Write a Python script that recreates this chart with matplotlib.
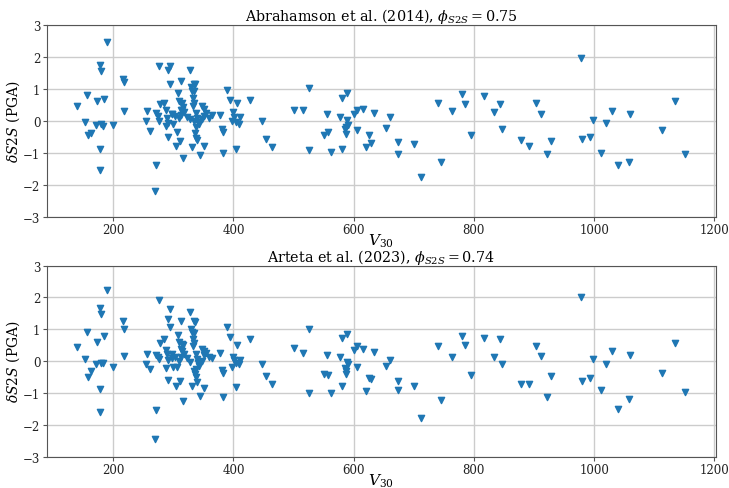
import matplotlib
matplotlib.use("Agg")
import matplotlib.pyplot as plt

# V30 of the sites (same sites in both panels)
v30 = [139.8, 152.5, 156.3, 157.5, 163, 170.8, 173.6, 178.6, 180.2, 185.2,
       180, 182.4, 178.6, 177.4, 189.5, 199.5, 217, 218, 218,
       253.8, 256, 261.5, 270.3, 270, 271.5, 274.2, 276.4, 275.9, 277,
       284.7, 287, 289, 291.4, 288, 290.3, 291.4, 294.1, 295.2, 298.5,
       301.9, 299.7, 297.5, 305.7, 305.2, 311.3, 315.7, 308, 313, 309,
       314.6, 312, 315, 318, 312, 310, 323, 327, 316, 327.9,
       334, 336.7, 329.5, 331, 335, 332.3, 334, 333.4, 336, 337.8,
       339, 330.6, 344.5, 350.5, 338.4, 340, 335, 342.8, 341.7, 337,
       348, 351, 354, 350.5, 358.8, 364.4, 347.5, 377, 381.5, 383,
       382, 389, 393.7, 406.4, 426.9, 398.6, 401, 410.3, 408.6, 397,
       404.2, 404.7,
       447, 453.5, 464, 500.5, 515, 525, 525, 550, 557, 555,
       562.5, 578, 581, 588.5, 589, 591, 585, 587, 588, 581,
       601, 606, 615, 605, 625, 629, 620, 633, 660, 653,
       673.6, 674, 699.6, 712, 740, 745.6, 764, 780, 786, 795,
       817.5, 833, 843, 847, 878, 891, 903, 911, 921, 928,
       978, 979.5, 993, 998, 1011.5, 1020, 1029.5, 1039, 1060.4, 1058,
       1112.4, 1135, 1152]

# dS2S, Abrahamson et al. (2014)
ds2s_ask14 = [0.47, -0.03, 0.81, -0.43, -0.37, -0.13, 0.62, 1.75, 1.56, 0.69,
              -0.08, -0.16, -0.89, -1.53, 2.48, -0.13, 1.31, 1.22, 0.30,
              0.0, 0.30, -0.31, -1.37, -2.21, 0.25, 0.17, 0.0, 1.73, 0.53,
              0.57, 0.35, 0.08, -0.07, -0.17, -0.51, 1.59, 1.73, 1.17, 0.21,
              0.17, -0.10, 0.23, -0.34, -0.77, -0.64, -1.15, 0.88, 1.27, 0.64,
              0.58, 0.34, 0.35, 0.27, 0.20, 0.10, 0.12, 0.07, 0.45, 1.61,
              1.16, 1.15, 1.06, 0.94, 0.94, 0.73, 0.58, 0.48, -0.38, -0.54,
              -0.61, -0.82, -1.06, -0.80, 0.24, 0.11, 0.0, -0.10, -0.03, -0.20,
              0.48, 0.37, 0.26, 0.16, 0.08, 0.19, 0.06, 0.18, -0.24, -0.33,
              -0.99, 0.98, 0.67, 0.56, 0.66, 0.29, 0.14, 0.14, -0.08, 0.0,
              -0.89, -0.02,
              0.0, -0.58, -0.82, 0.35, 0.35, 1.05, -0.92, -0.44, -0.36, 0.21,
              -0.97, 0.12, 0.71, 0.88, 0.03, -0.12, -0.24, -0.19, -0.42, -0.89,
              0.23, 0.35, 0.39, -0.27, -0.45, -0.69, -0.81, 0.24, 0.13, -0.23,
              -0.66, -1.04, -0.72, -1.76, 0.55, -1.28, 0.32, 0.84, 0.52, -0.45,
              0.80, 0.28, 0.53, -0.25, -0.61, -0.80, 0.58, 0.22, -1.03, -0.62,
              1.97, -0.55, -0.50, 0.03, -1.0, -0.05, 0.32, -1.37, 0.21, -1.29,
              -0.29, 0.63, -1.05]

# dS2S, Arteta et al. (2023)
ds2s_art23 = [0.45, 0.06, 0.92, -0.50, -0.30, -0.09, 0.61, 1.67, 1.49, 0.78,
              -0.07, -0.05, -0.86, -1.59, 2.22, -0.18, 1.26, 1.0, 0.15,
              -0.08, 0.23, -0.24, -1.53, -2.43, 0.18, 0.14, 0.07, 1.92, 0.58,
              0.70, 0.34, 0.23, 0.03, -0.23, -0.58, 1.31, 1.62, 1.07, 0.23,
              0.14, -0.17, 0.10, -0.17, -0.77, -0.63, -1.25, 0.81, 1.26, 0.60,
              0.55, 0.37, 0.31, 0.23, 0.14, 0.0, 0.10, -0.03, 0.49, 1.55,
              1.27, 1.23, 1.0, 0.92, 0.87, 0.70, 0.58, 0.47, -0.39, -0.50,
              -0.66, -0.79, -1.10, -0.83, 0.21, 0.07, -0.31, -0.16, -0.05, -0.24,
              0.39, 0.31, 0.24, 0.18, 0.14, 0.09, 0.0, 0.25, -0.29, -0.37,
              -1.12, 1.08, 0.75, 0.52, 0.68, 0.14, 0.05, 0.05, -0.08, -0.18,
              -0.81, -0.05,
              -0.08, -0.46, -0.72, 0.41, 0.27, 1.0, -0.99, -0.39, -0.43, 0.19,
              -1.0, 0.12, 0.74, 0.86, -0.03, -0.10, -0.23, -0.31, -0.41, -0.78,
              0.35, 0.47, 0.38, -0.17, -0.52, -0.57, -0.95, 0.28, 0.05, -0.15,
              -0.63, -0.92, -0.78, -1.79, 0.47, -1.22, 0.14, 0.78, 0.51, -0.44,
              0.74, 0.14, 0.70, -0.09, -0.71, -0.71, 0.48, 0.17, -1.12, -0.47,
              2.0, -0.64, -0.52, 0.08, -0.91, -0.08, 0.32, -1.50, 0.19, -1.19,
              -0.38, 0.58, -0.96]

titles = [r"Abrahamson et al. (2014), $\phi_{S2S} = 0.75$",
          r"Arteta et al. (2023), $\phi_{S2S} = 0.74$"]

plt.rcParams["font.family"] = "DejaVu Serif"
plt.rcParams["mathtext.fontset"] = "dejavuserif"

fig = plt.figure(figsize=(7.29, 4.89), dpi=100)
ax1 = fig.add_axes([0.064, 0.555, 0.918, 0.391])
ax2 = fig.add_axes([0.064, 0.064, 0.918, 0.391])

for ax, ys, title in zip([ax1, ax2], [ds2s_ask14, ds2s_art23], titles):
    ax.scatter(v30, ys, marker="v", s=20, color="tab:blue", zorder=3)
    ax.set_ylim(-3, 3)
    ax.set_xticks([200, 400, 600, 800, 1000, 1200])
    ax.set_yticks([-3, -2, -1, 0, 1, 2, 3])
    ax.grid(True, color="#cccccc", linewidth=1)
    ax.set_axisbelow(True)
    for sp in ax.spines.values():
        sp.set_color("#555555")
    ax.tick_params(colors="#555555", labelcolor="#222222", length=3,
                   labelsize=8.5, pad=1.5)
    ax.set_title(title, fontsize=10.3, pad=2)
    ax.set_xlabel(r"$V_{30}$", fontsize=11, labelpad=-3)
    ax.set_ylabel(r"$\delta S2S$ (PGA)", fontsize=10, labelpad=1)

fig.savefig("out.png", dpi=100)
